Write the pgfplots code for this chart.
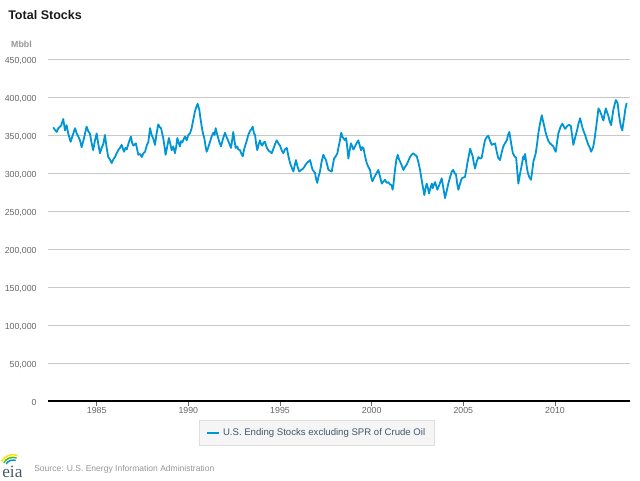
\documentclass[border=0pt]{standalone}
\usepackage{fontspec}
\setmainfont{Liberation Sans}
\newfontfamily\logofont{Liberation Serif}
\usepackage{pgfplots}
\pgfplotsset{compat=1.18}

\definecolor{eiablue}{HTML}{0096D6}
\definecolor{gridgray}{RGB}{200,200,200}
\definecolor{labelgray}{RGB}{102,102,102}
\definecolor{legendtext}{HTML}{3E576F}
\definecolor{legendfill}{RGB}{245,245,245}
\definecolor{legenddraw}{RGB}{222,222,222}
\definecolor{sourcegray}{RGB}{150,150,150}
\definecolor{logogray}{RGB}{75,90,105}

% weekly ending stocks, thousand barrels
\pgfplotstableread{
year value
1982.63 360000
1982.72 357000
1982.82 354000
1982.91 359000
1983.05 362000
1983.18 371000
1983.27 356000
1983.36 363000
1983.45 352000
1983.58 341000
1983.70 350000
1983.82 359000
1983.91 352000
1984.00 348000
1984.09 343000
1984.18 334000
1984.30 345000
1984.45 361000
1984.54 355000
1984.63 352000
1984.72 340000
1984.81 330000
1984.90 342000
1985.00 352000
1985.09 338000
1985.18 326000
1985.27 333000
1985.36 338000
1985.45 350000
1985.54 334000
1985.63 321000
1985.72 318000
1985.82 313000
1985.91 318000
1986.00 321000
1986.09 326000
1986.18 330000
1986.27 333000
1986.36 337000
1986.49 328000
1986.57 333000
1986.64 331000
1986.75 340000
1986.87 348000
1986.93 340000
1987.00 336000
1987.14 339000
1987.27 324000
1987.37 325000
1987.46 321000
1987.55 326000
1987.64 328000
1987.73 336000
1987.82 341000
1987.91 359000
1988.00 350000
1988.09 345000
1988.18 337000
1988.27 352000
1988.36 364000
1988.45 360000
1988.51 359000
1988.63 346000
1988.70 335000
1988.76 324000
1988.85 335000
1988.94 346000
1989.02 338000
1989.09 330000
1989.18 335000
1989.27 326000
1989.34 335000
1989.40 346000
1989.47 340000
1989.54 335000
1989.60 342000
1989.67 340000
1989.75 345000
1989.82 348000
1989.91 343000
1990.00 350000
1990.09 352000
1990.18 359000
1990.27 370000
1990.36 381000
1990.45 388000
1990.51 391000
1990.60 383000
1990.66 372000
1990.73 361000
1990.80 352000
1990.87 346000
1990.94 335000
1991.00 328000
1991.09 334000
1991.18 341000
1991.27 348000
1991.36 353000
1991.43 350000
1991.49 359000
1991.56 352000
1991.63 346000
1991.70 340000
1991.78 335000
1991.89 345000
1992.00 353000
1992.09 347000
1992.18 342000
1992.26 337000
1992.33 333000
1992.40 345000
1992.45 354000
1992.52 342000
1992.58 333000
1992.66 335000
1992.73 331000
1992.82 330000
1992.90 325000
1992.97 322000
1993.03 330000
1993.09 335000
1993.18 342000
1993.27 350000
1993.36 355000
1993.45 358000
1993.51 361000
1993.58 352000
1993.64 350000
1993.70 338000
1993.76 330000
1993.84 338000
1993.91 343000
1993.97 338000
1994.03 336000
1994.10 340000
1994.18 341000
1994.27 334000
1994.36 330000
1994.46 328000
1994.55 326000
1994.64 332000
1994.73 338000
1994.82 343000
1994.91 339000
1995.00 336000
1995.09 330000
1995.18 326000
1995.27 331000
1995.37 333000
1995.46 322000
1995.55 313000
1995.64 307000
1995.73 302000
1995.80 310000
1995.87 317000
1995.96 308000
1996.05 302000
1996.16 304000
1996.27 306000
1996.37 310000
1996.46 313000
1996.55 315000
1996.64 317000
1996.71 310000
1996.78 304000
1996.85 302000
1996.91 300000
1996.97 292000
1997.03 287000
1997.10 295000
1997.18 302000
1997.27 315000
1997.36 324000
1997.44 320000
1997.51 317000
1997.58 310000
1997.64 304000
1997.73 303000
1997.82 302000
1997.88 310000
1997.95 319000
1998.04 322000
1998.13 326000
1998.20 335000
1998.27 343000
1998.34 353000
1998.40 348000
1998.48 345000
1998.55 343000
1998.60 346000
1998.64 340000
1998.73 319000
1998.80 330000
1998.87 339000
1998.94 335000
1999.00 331000
1999.07 334000
1999.13 337000
1999.20 340000
1999.27 343000
1999.35 336000
1999.42 330000
1999.48 334000
1999.55 333000
1999.64 322000
1999.73 313000
1999.82 308000
1999.91 304000
1999.97 295000
2000.04 289000
2000.11 293000
2000.18 296000
2000.27 300000
2000.36 304000
2000.46 295000
2000.55 286000
2000.64 289000
2000.73 291000
2000.82 287000
2000.91 288000
2001.00 285000
2001.09 284000
2001.14 278000
2001.18 283000
2001.23 295000
2001.27 304000
2001.35 318000
2001.42 324000
2001.49 318000
2001.55 315000
2001.64 310000
2001.73 304000
2001.82 308000
2001.91 311000
2002.00 316000
2002.09 321000
2002.18 324000
2002.27 326000
2002.36 324000
2002.46 322000
2002.55 314000
2002.64 304000
2002.70 295000
2002.76 286000
2002.82 278000
2002.87 271000
2002.94 280000
2003.00 286000
2003.07 280000
2003.13 273000
2003.20 280000
2003.28 286000
2003.33 280000
2003.40 285000
2003.46 288000
2003.52 283000
2003.58 278000
2003.70 285000
2003.82 293000
2003.91 280000
2004.00 267000
2004.09 276000
2004.18 286000
2004.27 294000
2004.37 302000
2004.45 304000
2004.52 300000
2004.60 298000
2004.67 285000
2004.73 278000
2004.82 286000
2004.91 293000
2005.00 294000
2005.09 295000
2005.16 304000
2005.22 313000
2005.30 323000
2005.37 332000
2005.44 327000
2005.51 322000
2005.58 312000
2005.64 306000
2005.73 315000
2005.82 321000
2005.91 319000
2006.00 320000
2006.09 332000
2006.18 343000
2006.27 347000
2006.36 349000
2006.45 343000
2006.55 337000
2006.64 338000
2006.73 339000
2006.82 328000
2006.90 320000
2007.00 317000
2007.09 327000
2007.18 335000
2007.27 339000
2007.37 343000
2007.44 350000
2007.51 354000
2007.60 340000
2007.70 326000
2007.79 322000
2007.88 320000
2007.94 303000
2008.00 286000
2008.10 300000
2008.19 311000
2008.27 322000
2008.31 318000
2008.37 325000
2008.46 308000
2008.52 300000
2008.59 295000
2008.69 291000
2008.76 303000
2008.82 315000
2008.88 320000
2008.95 326000
2009.02 338000
2009.09 352000
2009.18 365000
2009.28 376000
2009.35 368000
2009.42 361000
2009.48 354000
2009.55 348000
2009.64 342000
2009.73 339000
2009.82 337000
2009.91 335000
2009.97 331000
2010.04 328000
2010.11 340000
2010.18 352000
2010.29 360000
2010.40 365000
2010.48 361000
2010.55 358000
2010.64 361000
2010.73 363000
2010.80 363000
2010.86 362000
2010.93 350000
2011.00 337000
2011.09 346000
2011.19 355000
2011.28 365000
2011.37 372000
2011.43 366000
2011.49 360000
2011.56 355000
2011.64 350000
2011.73 343000
2011.82 337000
2011.90 333000
2011.97 328000
2012.03 331000
2012.09 335000
2012.16 345000
2012.22 356000
2012.30 371000
2012.37 385000
2012.44 382000
2012.51 378000
2012.58 373000
2012.64 369000
2012.70 377000
2012.77 385000
2012.84 380000
2012.91 375000
2012.98 368000
2013.06 363000
2013.12 373000
2013.18 383000
2013.25 390000
2013.32 396000
2013.37 394000
2013.42 391000
2013.48 378000
2013.55 367000
2013.61 360000
2013.67 356000
2013.72 365000
2013.78 374000
2013.84 385000
2013.91 392000
}\stocks

\begin{document}
\begin{tikzpicture}
% 640x480 px page, 1px = 0.75pt
\path[use as bounding box] (0,0) rectangle (480pt,360pt);

\node[anchor=base west, inner sep=0pt, font=\bfseries\fontsize{9.4}{11}\selectfont, text=black!90]
  at (6pt,{(480-19.3)*0.75pt}) {Total Stocks};
\node[anchor=base west, inner sep=0pt, font=\bfseries\fontsize{6.6}{8}\selectfont, text=sourcegray]
  at (8.2pt,{(480-47.5)*0.75pt}) {Mbbl};

\begin{axis}[
    at={(36.2pt,59.25pt)}, anchor=south west,
    scale only axis,
    width=436.3pt, height=256.5pt,
    xmin=1982.36, xmax=2014.09,
    ymin=0, ymax=450000,
    axis lines*=left,
    x axis line style={black, line width=1.3pt},
    y axis line style={draw=none},
    ytick={0,50000,...,450000},
    xtick={1985,1990,1995,2000,2005,2010},
    xticklabels={1985,1990,1995,2000,2005,2010},
    scaled y ticks=false,
    ymajorgrids,
    major grid style={gridgray, line width=0.75pt},
    ytick style={draw=none},
    xtick style={labelgray, line width=0.6pt},
    tick align=outside,
    major tick length=3.75pt,
    tick label style={font=\fontsize{6.6}{8}\selectfont, text=labelgray},
    /pgf/number format/assume math mode=true,
    yticklabel style={/pgf/number format/fixed, /pgf/number format/1000 sep={,},
                      anchor=east, inner sep=0pt, xshift=-4.8pt, yshift=-1.2pt},
    xticklabel style={anchor=north, inner sep=0pt, yshift=-0.5pt},
    legend style={at={(0.4616,-0.0556)}, anchor=north,
                  draw=legenddraw, fill=legendfill, line width=0.75pt,
                  font=\fontsize{7.2}{9}\selectfont, text=legendtext,
                  inner xsep=5pt, inner ysep=4pt},
    legend image code/.code={\draw[line width=2pt] (0pt,0pt) -- (9pt,0pt);},
]
\addplot[eiablue, line width=1.35pt, line join=round] table[x=year, y=value] {\stocks};
\addlegendentry{U.S. Ending Stocks excluding SPR of Crude Oil}
\end{axis}

% eia logo and source line
\begin{scope}[line width=1.1pt]
  \draw[eiablue] ({13*0.75pt},{(480-468)*0.75pt}) ++(70:6pt) arc[start angle=70, end angle=150, radius=6pt];
  \draw[green!60!black!70!yellow] ({13*0.75pt},{(480-468)*0.75pt}) ++(70:8pt) arc[start angle=70, end angle=150, radius=8pt];
  \draw[yellow!85!orange] ({13*0.75pt},{(480-468)*0.75pt}) ++(70:10pt) arc[start angle=70, end angle=150, radius=10pt];
\end{scope}
\node[anchor=base west, inner sep=0pt, font=\logofont\fontsize{13}{13}\selectfont, text=logogray]
  at (1.5pt,{(480-477)*0.75pt}) {eia};
\node[anchor=base west, inner sep=0pt, font=\fontsize{6.4}{8}\selectfont, text=sourcegray]
  at ({34*0.75pt},{(480-471)*0.75pt}) {Source: U.S. Energy Information Administration};
\end{tikzpicture}
\end{document}
